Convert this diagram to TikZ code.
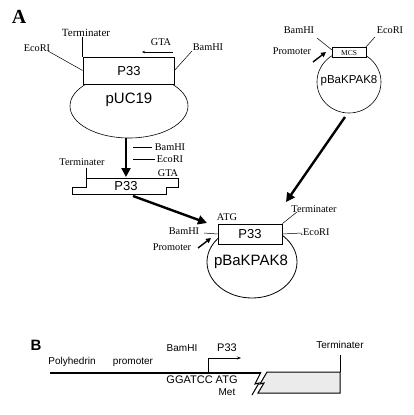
\documentclass[tikz,border=0pt]{standalone}
\usepackage{fontspec}
\setmainfont{Liberation Serif}
\setsansfont{Liberation Sans}
\usetikzlibrary{arrows.meta,shapes.geometric}
\begin{document}
\begin{tikzpicture}[x=1pt,y=-1pt,
  lab/.style={inner sep=0pt,font=\fontsize{10.3}{11}\selectfont},
  slab/.style={inner sep=0pt,font=\sffamily\fontsize{10}{11}\selectfont},
  thin line/.style={line width=0.5pt},
  bigarrow/.style={line width=2.4pt,-{Triangle[length=9pt,width=9pt]}},
  smallarrow/.style={line width=1.4pt,-{Triangle[length=5pt,width=5pt]}},
  genebox/.style={draw,line width=0.8pt,fill=white,inner sep=0pt}]
\useasboundingbox (0,0) rectangle (413,415);
% ---------- A ----------
\node[inner sep=0pt,font=\bfseries\fontsize{20}{20}\selectfont] (A) at (19,17) {A};
% pUC19
\node[draw,line width=0.6pt,ellipse,minimum width=118,minimum height=64,inner sep=0pt] (puc) at (129,106) {};
\node[font=\sffamily\fontsize{15}{15}\selectfont,inner sep=0pt] (puct) at (129,100) {pUC19};
\node[genebox,minimum width=91,minimum height=27] (p33a) at (128.5,70.5) {};
\node[font=\sffamily\fontsize{13}{13}\selectfont,inner sep=0pt] (p33at) at (129,71) {P33};
\node[lab,font=\fontsize{11}{11}\selectfont] (terma) at (86,33) {Terminater};
\draw[thin line] (p33a.north west) -- ++(0,-20) coordinate (termaend);
\node[lab] (ecoa) at (37,48) {EcoRI};
\coordinate (ecoa1) at (48,51);
\draw[thin line] (ecoa1) -- (p33a.west);
\node[lab] (bama) at (208,47) {BamHI};
\coordinate (bama1) at (192,51);
\draw[thin line] (bama1) -- (p33a.east);
\node[lab] (gtaa) at (161,42) {GTA};
\coordinate (gta1) at (173,52);
\coordinate (gta2) at (142,52);
\draw[thin line,-{Stealth[length=3pt,width=2.5pt]}] (gta1) -- (gta2);
% pBaKPAK8 top right
\node[draw,line width=0.6pt,ellipse,minimum width=64,minimum height=62,inner sep=0pt] (pbk1) at (349,82) {};
\node[font=\sffamily\fontsize{11.5}{11.5}\selectfont,inner sep=0pt] (pbk1t) at (349,81) {pBaKPAK8};
\node[genebox,line width=0.6pt,minimum width=34,minimum height=10] (mcs) at (349,52.5) {};
\node[inner sep=0pt,font=\fontsize{7.5}{7.5}\selectfont] (mcst) at (349,53) {MCS};
\node[lab] (bamb) at (299,30) {BamHI};
\coordinate (bamb1) at (317,38);
\coordinate (bamb2) at (332,50);
\draw[thin line] (bamb1) -- (bamb2);
\node[lab] (ecob) at (390,30) {EcoRI};
\coordinate (ecob1) at (375,37);
\coordinate (ecob2) at (365,48);
\draw[thin line] (ecob1) -- (ecob2);
\node[lab] (promb) at (292,51) {Promoter};
\coordinate (promb1) at (313,62);
\coordinate (promb2) at (326,52);
\draw[smallarrow] (promb1) -- (promb2);
% arrows to fragment
\coordinate (va1) at (126,138);
\coordinate (va2) at (126,177);
\draw[bigarrow] (va1) -- (va2);
\node[lab] (bamm) at (170,147) {BamHI};
\coordinate (bamm1) at (133,147);
\coordinate (bamm2) at (152,147);
\draw[thin line] (bamm1) -- (bamm2);
\node[lab] (ecom) at (170,159) {EcoRI};
\coordinate (ecom1) at (133,159);
\coordinate (ecom2) at (155,159);
\draw[thin line] (ecom1) -- (ecom2);
% fragment
\coordinate (f1) at (86,178);
\draw[line width=0.8pt] (f1) -- (178,178) -- (178,187) -- (166,187) -- (166,194) -- (72,194) -- (72,187) -- (86,187) -- cycle;
\node[lab] (termm) at (82,162) {Terminater};
\coordinate (termm1) at (86,168);
\draw[thin line] (termm1) -- (f1);
\node[lab] (gtam) at (168,173) {GTA};
\node[font=\sffamily\fontsize{13}{13}\selectfont,inner sep=0pt] (p33m) at (126,186) {P33};
\coordinate (da1) at (133,196);
\coordinate (da2) at (207,223);
\draw[bigarrow] (da1) -- (da2);
\coordinate (db1) at (345,117);
\coordinate (db2) at (286,202);
\draw[bigarrow] (db1) -- (db2);
% bottom pBaKPAK8
\node[draw,line width=0.8pt,ellipse,minimum width=90,minimum height=72,inner sep=0pt] (pbk2) at (252,262) {};
\node[font=\sffamily\fontsize{15}{15}\selectfont,inner sep=0pt] (pbk2t) at (251,262) {pBaKPAK8};
\node[genebox,minimum width=64,minimum height=20] (p33c) at (250,234) {};
\node[font=\sffamily\fontsize{13}{13}\selectfont,inner sep=0pt] (p33ct) at (250,234) {P33};
\node[lab] (atg) at (227,217) {ATG};
\node[lab] (termc) at (314,209) {Terminater};
\coordinate (termc1) at (297,212);
\draw[thin line] (p33c.north east) -- (termc1);
\node[lab] (ecoc) at (315,232) {.EcoRI};
\coordinate (ecoc1) at (302,233);
\draw[thin line] (p33c.east) -- (ecoc1);
\node[lab] (bamc) at (184,231) {BamHI};
\coordinate (bamc1) at (204,233);
\draw[thin line] (bamc1) -- (p33c.west);
\node[lab] (promc) at (172,247) {Promoter};
\coordinate (promc1) at (198,248);
\coordinate (promc2) at (211,238);
\draw[smallarrow] (promc1) -- (promc2);
% ---------- B ----------
\node[inner sep=0pt,font=\sffamily\bfseries\fontsize{15}{15}\selectfont] (B) at (36,345) {B};
\coordinate (l1) at (50,372.5);
\coordinate (l2) at (261,372.5);
\draw[line width=2pt] (l1) -- (l2);
\draw[line width=1pt] (261,372) -- (255,384) -- (259,383) -- (252,395);
\draw[line width=1pt,fill=black!8] (267,372) -- (340,372) -- (340,393) -- (258,393) -- (264,383) -- (260,384) -- cycle;
\coordinate (t1) at (340,372);
\node[slab] (termB) at (340,345) {Terminater};
\coordinate (t2) at (340,355);
\draw[thin line] (t1) -- (t2);
\node[slab] (poly) at (72,362) {Polyhedrin};
\node[slab] (prom) at (133,362) {promoter};
\node[slab] (bamB) at (182,348) {BamHI};
\node[slab,font=\sffamily\fontsize{11}{11}\selectfont] (p33B) at (227,348) {P33};
\coordinate (pa1) at (208,372);
\coordinate (pa2) at (241,358);
\draw[thin line,-{Stealth[length=4pt,width=3pt]}] (pa1) |- (pa2);
\node[slab,font=\sffamily\fontsize{11}{11}\selectfont] (gg) at (202,380) {GGATCC ATG};
\node[slab] (met) at (227,392) {Met};
\end{tikzpicture}
\end{document}
